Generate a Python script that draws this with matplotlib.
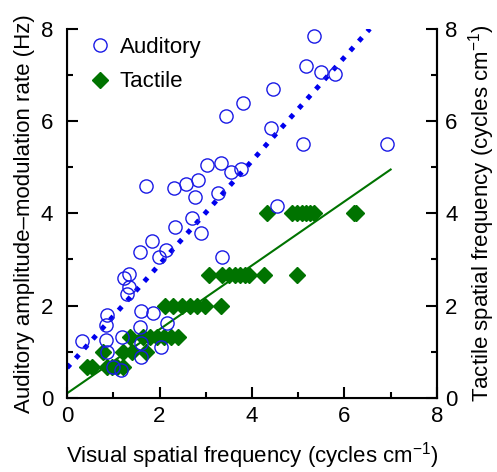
import numpy as np
import matplotlib.pyplot as plt

plt.rcParams['font.family'] = ['Liberation Sans', 'DejaVu Sans']
plt.rcParams['mathtext.fontset'] = 'custom'
plt.rcParams['mathtext.rm'] = 'Liberation Sans'
plt.rcParams['mathtext.it'] = 'Liberation Sans'

# Auditory: visual spatial frequency vs amplitude-modulation rate
aud_x = [0.32, 0.84, 0.86, 0.86, 0.84, 0.99, 1.17, 1.19, 1.23, 1.30, 1.34, 1.34,
         1.58, 1.60, 1.60, 1.58, 1.60, 1.71, 1.84, 1.86, 1.99, 2.03, 2.14, 2.16,
         2.31, 2.34, 2.57, 2.70, 2.77, 2.83, 2.90, 3.03, 3.26, 3.33, 3.35, 3.44,
         3.55, 3.76, 3.81, 4.41, 4.45, 4.54, 5.10, 5.17, 5.34, 5.49, 5.79, 6.92]
aud_y = [1.24, 1.26, 1.00, 1.80, 1.58, 0.67, 0.61, 1.32, 2.60, 2.26, 2.69, 2.41,
         1.54, 1.89, 1.19, 3.17, 0.89, 4.60, 3.41, 1.84, 3.06, 1.11, 3.21, 1.63,
         4.55, 3.71, 4.64, 3.90, 4.36, 4.73, 3.58, 5.05, 4.45, 5.10, 3.06, 6.10,
         4.90, 4.97, 6.40, 5.86, 6.70, 4.16, 5.51, 7.20, 7.85, 7.07, 7.01, 5.51]

# Tactile: visual spatial frequency vs tactile spatial frequency
tac_x = [0.43, 0.54, 0.86, 0.97, 1.08, 1.21,
         0.78, 1.20, 1.40, 1.70,
         1.36, 1.65, 1.80, 1.95, 2.10, 2.25, 2.40,
         2.12, 2.29, 2.49, 2.66, 2.81, 2.98, 3.33,
         3.07, 3.35, 3.50, 3.63, 3.75, 3.85, 3.93, 4.26, 4.97,
         4.32, 4.86, 4.97, 5.08, 5.17, 5.25, 5.34, 6.20, 6.25]
tac_y = [0.67, 0.67, 0.67, 0.67, 0.67, 0.67,
         1.0, 1.0, 1.0, 1.0,
         1.33, 1.33, 1.33, 1.33, 1.33, 1.33, 1.33,
         2.0, 2.0, 2.0, 2.0, 2.0, 2.0, 2.0,
         2.67, 2.67, 2.67, 2.67, 2.67, 2.67, 2.67, 2.67, 2.67,
         4.0, 4.0, 4.0, 4.0, 4.0, 4.0, 4.0, 4.0, 4.0]

# regression lines
aud_fit_x = [0.0, 6.55]
aud_fit_y = [0.65, 8.0]
tac_fit_x = [0.0, 7.0]
tac_fit_y = [0.1, 4.95]

green = '#007300'
fs = 16

fig = plt.figure(figsize=(4.97, 4.72), dpi=100)
ax = fig.add_axes([0.135, 0.157, 0.744, 0.782])

ax.plot(tac_fit_x, tac_fit_y, '-', color=green, lw=1.5, zorder=2)
ax.plot(aud_fit_x, aud_fit_y, ':', color='#0000ee', lw=3.5, zorder=2)
ax.plot(tac_x, tac_y, 'D', color=green, ms=8.5, mec=green, zorder=3, label='Tactile')
ax.plot(aud_x, aud_y, 'o', mfc='none', mec='#1a1ae6', ms=9.5, mew=1.0, zorder=4,
        label='Auditory')

ax.set_xlim(0, 8)
ax.set_ylim(0, 8)
ax.set_xticks([0, 2, 4, 6, 8])
ax.set_xticks([1, 3, 5, 7], minor=True)
ax.set_yticks([0, 2, 4, 6, 8])
ax.set_yticks([1, 3, 5, 7], minor=True)
ax.spines['top'].set_visible(False)
for s in ['left', 'bottom', 'right']:
    ax.spines[s].set_linewidth(1.5)
ax.tick_params(which='major', direction='in', length=8, width=1.5, labelsize=fs)
ax.tick_params(axis='x', which='major', pad=6)
ax.tick_params(axis='y', which='major', pad=10)
ax.tick_params(which='minor', direction='in', length=4, width=1.5)

ax2 = ax.twinx()
ax2.set_ylim(0, 8)
ax2.set_yticks([0, 2, 4, 6, 8])
ax2.set_yticks([1, 3, 5, 7], minor=True)
ax2.spines['top'].set_visible(False)
ax2.spines['right'].set_linewidth(1.5)
ax2.tick_params(which='major', direction='in', length=8, width=1.5, labelsize=fs, pad=6)
ax2.tick_params(which='minor', direction='in', length=4, width=1.5)

ax.set_xlabel('Visual spatial frequency (cycles cm$^{-1}$)', fontsize=fs, labelpad=9)
ax.set_ylabel('Auditory amplitude\u2013modulation rate (Hz)', fontsize=fs, labelpad=4)
ax2.set_ylabel('Tactile spatial frequency (cycles cm$^{-1}$)', fontsize=fs, labelpad=6)

h, l = ax.get_legend_handles_labels()
ax.legend(h[::-1], l[::-1], loc='upper left', frameon=False, fontsize=fs,
          handletextpad=0.3, handlelength=1.2, borderaxespad=0.3, labelspacing=0.6,
          bbox_to_anchor=(0.01, 1.02))

fig.savefig('out.png', dpi=100)
